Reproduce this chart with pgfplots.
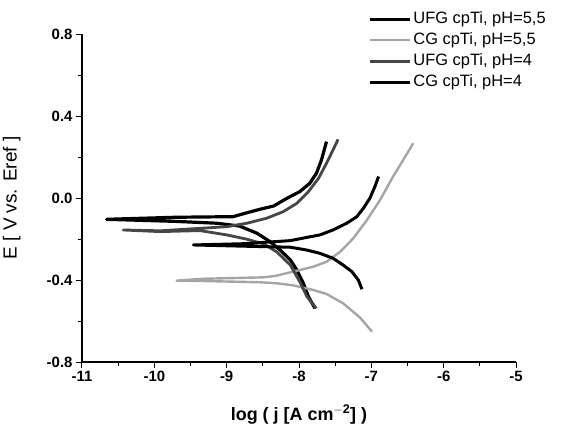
\documentclass[border=0pt]{standalone}
\usepackage{pgfplots}
\pgfplotsset{compat=1.18}
\usepackage{fontspec}
\setmainfont{Liberation Sans}

\definecolor{lgrey}{RGB}{165,165,165}
\definecolor{dgrey}{RGB}{70,70,70}

\begin{document}
\begin{tikzpicture}
\useasboundingbox (-82bp,-77bp) rectangle (480bp,362bp);
\begin{axis}[
  scale only axis,
  width=434bp, height=328bp,
  xmin=-11, xmax=-5, ymin=-0.8, ymax=0.8,
  axis x line=bottom, axis y line=left,
  axis line style={-, line width=1.2bp},
  xtick={-11,-10,...,-5}, minor xtick={-10.5,-9.5,...,-5.5},
  ytick={-0.8,-0.4,0,0.4,0.8}, minor ytick={-0.6,-0.2,0.2,0.6},
  tick align=outside, major tick length=6bp, minor tick length=4bp,
  tick style={line width=1bp, black},
  /pgf/number format/assume math mode=true,
  ticklabel style={font=\bfseries\fontsize{15}{17}\selectfont},
  yticklabel style={/pgf/number format/.cd, fixed, fixed zerofill, precision=1},
  xlabel={log ( j [A cm$^{\mathbf{-2}}$] )},
  ylabel={E [ V vs. Eref ]},
  xlabel style={at={(axis description cs:0.5,-0.16)}, anchor=center, font=\bfseries\fontsize{18}{20}\selectfont},
  ylabel style={at={(axis description cs:-0.162,0.5)}, anchor=center, font=\fontsize{19}{21}\selectfont},
  legend style={at={(axis description cs:0.659,1.067)}, anchor=north west,
    draw=none, fill=none, font=\fontsize{16.5}{18}\selectfont,
    row sep=7bp, inner sep=0pt,
    nodes={inner sep=0pt, text height=11bp, text depth=3bp},
    /tikz/every odd column/.append style={column sep=2bp}},
  legend cell align=left,
  legend image code/.code={\draw[#1] (0bp,0bp) -- (40bp,0bp);},
  clip=false,
]
% UFG cpTi, pH=5,5
\addplot[black, line width=3.2bp, line join=round] coordinates {
  (-7.78,-0.538) (-7.87,-0.481) (-7.94,-0.416) (-8.03,-0.351) (-8.12,-0.302)
  (-8.26,-0.254) (-8.40,-0.213) (-8.58,-0.172) (-8.82,-0.137) (-9.14,-0.123)
  (-9.71,-0.114) (-10.66,-0.104)
  (-9.71,-0.094) (-8.91,-0.091) (-8.72,-0.072) (-8.54,-0.055) (-8.35,-0.039)
  (-8.17,-0.002) (-7.99,0.031) (-7.85,0.072) (-7.76,0.120) (-7.69,0.185)
  (-7.62,0.275)
};
\addlegendentry{UFG cpTi, pH=5,5}
% CG cpTi, pH=5,5
\addplot[lgrey, line width=2.4bp, line join=round] coordinates {
  (-6.99,-0.652) (-7.16,-0.582) (-7.39,-0.514) (-7.62,-0.468) (-7.80,-0.449)
  (-8.08,-0.426) (-8.31,-0.416) (-8.54,-0.411) (-9.32,-0.405) (-9.69,-0.403)
  (-9.32,-0.394) (-8.49,-0.387) (-8.31,-0.379) (-8.08,-0.359) (-7.80,-0.335)
  (-7.62,-0.311) (-7.43,-0.262) (-7.25,-0.197) (-7.06,-0.107) (-6.88,-0.010)
  (-6.70,0.104) (-6.56,0.185) (-6.42,0.267)
};
\addlegendentry{CG cpTi, pH=5,5}
% UFG cpTi, pH=4
\addplot[dgrey, line width=2.8bp, line join=round] coordinates {
  (-7.76,-0.538) (-7.89,-0.481) (-7.99,-0.408) (-8.12,-0.327) (-8.31,-0.262)
  (-8.49,-0.224) (-8.72,-0.201) (-9.00,-0.180) (-9.37,-0.159) (-9.92,-0.164)
  (-10.43,-0.156)
  (-9.92,-0.160) (-9.37,-0.148) (-9.00,-0.140) (-8.72,-0.123) (-8.45,-0.099)
  (-8.22,-0.067) (-8.03,-0.026) (-7.87,0.031) (-7.73,0.096) (-7.62,0.169)
  (-7.53,0.234) (-7.46,0.286)
};
\addlegendentry{UFG cpTi, pH=4}
% CG cpTi, pH=4
\addplot[black, line width=3bp, line join=round] coordinates {
  (-7.13,-0.445) (-7.18,-0.400) (-7.27,-0.359) (-7.39,-0.327) (-7.53,-0.294)
  (-7.71,-0.270) (-7.89,-0.254) (-8.12,-0.240) (-8.77,-0.235) (-9.46,-0.229)
  (-8.77,-0.223) (-8.12,-0.208) (-7.89,-0.192) (-7.71,-0.180) (-7.53,-0.156)
  (-7.34,-0.123) (-7.20,-0.091) (-7.11,-0.050) (-7.02,-0.001) (-6.95,0.056)
  (-6.90,0.105)
};
\addlegendentry{CG cpTi, pH=4}
\end{axis}
\end{tikzpicture}
\end{document}
